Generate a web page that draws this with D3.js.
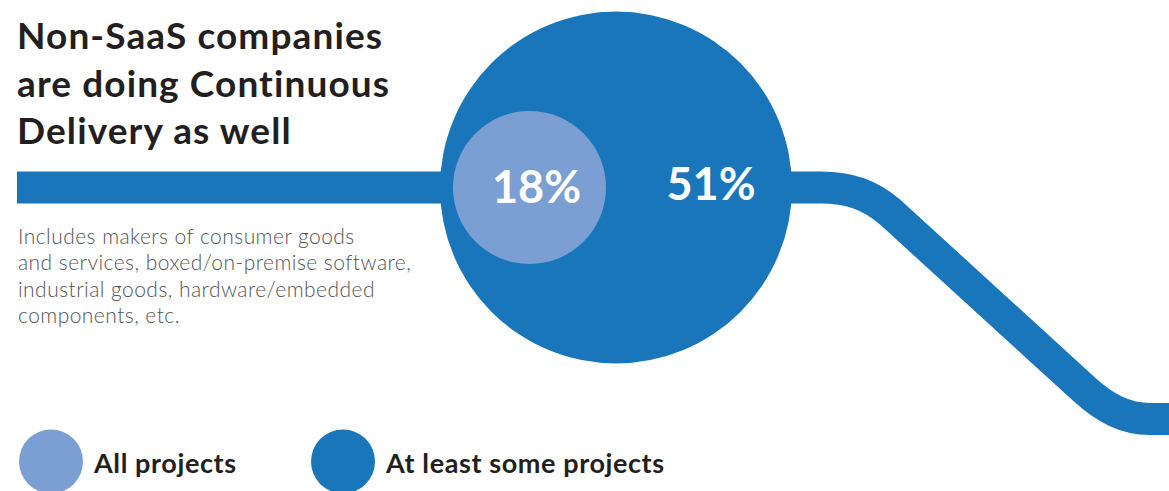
<!DOCTYPE html>
<html>
<head>
<meta charset="utf-8">
<script src="https://cdn.jsdelivr.net/npm/d3@7"></script>
<style>
  html, body { margin: 0; padding: 0; background: #ffffff; }
  svg { display: block; }
</style>
</head>
<body>
<svg id="chart" width="1169" height="491"></svg>
<script>
// ---- data ----
const categories = ["All projects", "At least some projects"];
const values = [18, 51];
const valueLabels = ["18%", "51%"];
const titleLines = ["Non-SaaS companies", "are doing Continuous", "Delivery as well"];
const noteLines = [
  "Includes makers of consumer goods",
  "and services, boxed/on-premise software,",
  "industrial goods, hardware/embedded",
  "components, etc."
];

// ---- styles ----
const colors = ["#7B9FD3", "#1976BB"];
const W = 1169, H = 491;
const svg = d3.select("#chart");

// radius scale
const rScale = d3.scalePow().exponent(0.8).domain([0, 51]).range([0, 176]);

const cy = 187.5;
const bigCx = 616;
const rBig = rScale(values[1]);
const rSmall = rScale(values[0]);
const smallCx = bigCx - rBig + 13 + rSmall;

// ---- band path ----
const band = d3.path();
band.moveTo(17, cy);
band.lineTo(820, cy);
band.bezierCurveTo(850, cy, 870, 195, 890, 212);
band.lineTo(1085, 390);
band.bezierCurveTo(1105, 408, 1125, 419, 1150, 419);
band.lineTo(W + 5, 419);

svg.append("path")
  .attr("d", band.toString())
  .attr("fill", "none")
  .attr("stroke", colors[1])
  .attr("stroke-width", 32);

// ---- circles ----
svg.append("circle").attr("cx", bigCx).attr("cy", cy).attr("r", rBig).attr("fill", colors[1]);
svg.append("circle").attr("cx", smallCx).attr("cy", cy).attr("r", rSmall).attr("fill", colors[0]);

svg.append("text")
  .attr("x", smallCx + 7).attr("y", 203)
  .attr("text-anchor", "middle")
  .attr("font-family", "Lato, sans-serif").attr("font-weight", 700)
  .attr("font-size", 45).attr("fill", "#ffffff")
  .text(valueLabels[0]);

svg.append("text")
  .attr("x", bigCx + 95).attr("y", 200)
  .attr("text-anchor", "middle")
  .attr("font-family", "Lato, sans-serif").attr("font-weight", 700)
  .attr("font-size", 45).attr("fill", "#ffffff")
  .text(valueLabels[1]);

// ---- title ----
svg.append("g").selectAll("text").data(titleLines).join("text")
  .attr("x", 17).attr("y", (d, i) => 49 + i * 47.5)
  .attr("font-family", "Lato, sans-serif").attr("font-weight", 700)
  .attr("font-size", 37).attr("letter-spacing", 1.1).attr("fill", "#231f20")
  .text(d => d);

// ---- note ----
svg.append("g").selectAll("text").data(noteLines).join("text")
  .attr("x", 18).attr("y", (d, i) => 243.5 + i * 26.6)
  .attr("font-family", "Lato, sans-serif").attr("font-weight", 300)
  .attr("font-size", 21).attr("letter-spacing", 0.45).attr("fill", "#555555")
  .text(d => d);

// ---- legend ----
const legendX = [51, 343];
const lg = svg.append("g").selectAll("g").data(categories).join("g")
  .attr("transform", (d, i) => `translate(${legendX[i]},461.5)`);
lg.append("circle").attr("r", 32).attr("fill", (d, i) => colors[i]);
lg.append("text")
  .attr("x", 43).attr("y", 11)
  .attr("font-family", "Lato, sans-serif").attr("font-weight", 700)
  .attr("font-size", 27).attr("letter-spacing", 0.6).attr("fill", "#231f20")
  .text(d => d);
</script>
</body>
</html>
